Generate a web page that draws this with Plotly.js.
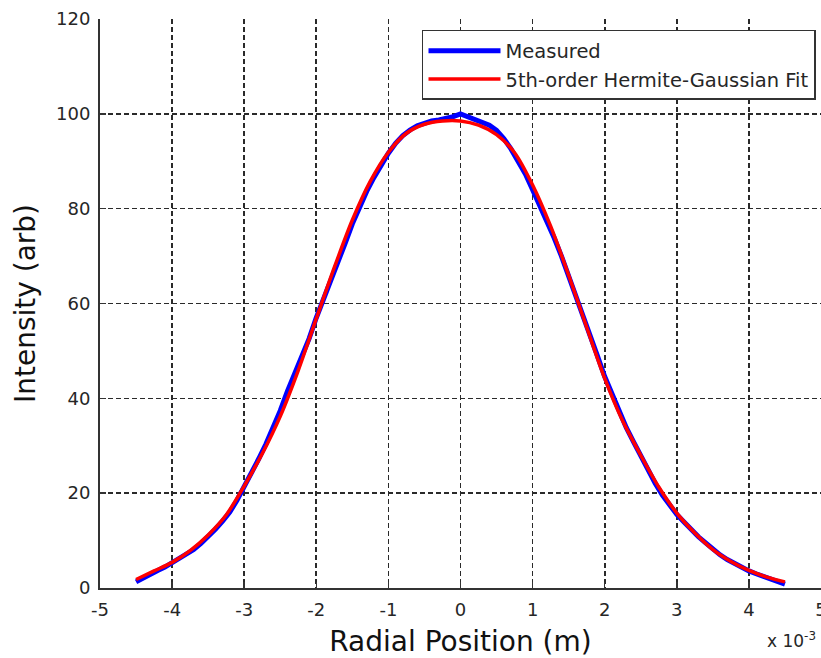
<!DOCTYPE html>
<html>
<head>
<meta charset="utf-8">
<script src="https://cdn.plot.ly/plotly-3.0.1.min.js"></script>
<style>html,body{margin:0;padding:0;background:#fff;}#chart{width:821px;height:658px;}</style>
</head>
<body>
<div id="chart"></div>
<script>
// Radial position in units of 1e-3 m
const measuredX = [-4.5,-4.4,-4.3,-4.2,-4.1,-4.0,-3.9,-3.8,-3.7,-3.6,-3.5,-3.4,-3.3,-3.2,-3.1,-3.0,-2.9,-2.8,-2.7,-2.6,-2.5,-2.4,-2.3,-2.2,-2.1,-2.0,-1.9,-1.8,-1.7,-1.6,-1.5,-1.4,-1.3,-1.2,-1.1,-1.0,-0.9,-0.8,-0.7,-0.6,-0.5,-0.4,-0.3,-0.2,-0.1,0.0,0.1,0.2,0.3,0.4,0.5,0.6,0.7,0.8,0.9,1.0,1.1,1.2,1.3,1.4,1.5,1.6,1.7,1.8,1.9,2.0,2.1,2.2,2.3,2.4,2.5,2.6,2.7,2.8,2.9,3.0,3.1,3.2,3.3,3.4,3.5,3.6,3.7,3.8,3.9,4.0,4.1,4.2,4.3,4.4,4.5];
const measuredY = [1.3,2.2,2.9,3.7,4.4,5.3,6.1,7.0,8.1,9.4,10.8,12.4,14.1,16.0,18.5,21.3,24.3,27.2,30.3,33.8,37.4,41.5,45.0,48.6,52.6,57.0,60.8,64.6,68.7,72.7,76.8,80.4,83.7,86.6,89.3,91.7,93.8,95.4,96.6,97.5,98.0,98.5,98.7,99.0,99.4,100.0,99.4,98.9,98.4,97.6,96.5,94.8,92.6,90.0,87.3,84.0,80.7,77.3,73.8,70.0,65.9,61.6,57.4,53.1,48.9,44.6,40.8,37.2,33.8,30.8,27.8,24.9,22.1,19.6,17.4,15.5,13.9,12.3,10.8,9.5,8.2,7.0,6.0,5.1,4.3,3.6,3.0,2.5,2.0,1.5,0.8];

const fitX = [-4.5,-4.25,-4.0,-3.75,-3.5,-3.25,-3.0,-2.75,-2.5,-2.25,-2.0,-1.75,-1.5,-1.25,-1.0,-0.75,-0.5,-0.25,0.0,0.25,0.5,0.75,1.0,1.25,1.5,1.75,2.0,2.25,2.5,2.75,3.0,3.25,3.5,3.75,4.0,4.25,4.5];
const fitY = [1.8,3.6,5.4,7.9,11.2,15.4,21.5,28.3,36.2,45.9,56.8,67.6,77.6,85.8,91.9,95.9,97.8,98.5,98.5,97.6,95.6,91.8,85.0,76.3,66.0,55.0,44.2,35.2,28.0,21.3,15.8,11.6,8.1,5.6,3.7,2.3,1.3];

const xTicks = [-5,-4,-3,-2,-1,0,1,2,3,4,5];
const yTicks = [0,20,40,60,80,100,120];
const seriesNames = ['Measured','5th-order Hermite-Gaussian Fit'];
const xTitle = 'Radial Position (m)';
const yTitle = 'Intensity (arb)';
const xExponent = 'x 10<sup>-3</sup>';

const FONT = 'DejaVu Sans, Arial, sans-serif';
const INK = '#262626';

const traces = [
  {x: measuredX, y: measuredY, name: seriesNames[0], type: 'scatter', mode: 'lines',
   line: {color: '#0000ff', width: 5}},
  {x: fitX, y: fitY, name: seriesNames[1], type: 'scatter', mode: 'lines',
   line: {color: '#ff0000', width: 3.5, shape: 'spline', smoothing: 0.8}}
];

const gridStyle = {showgrid: true, gridcolor: '#2a2a2a', gridwidth: 1.6, griddash: '5px,3px'};

const layout = {
  width: 821, height: 658,
  margin: {l: 100, r: 0, t: 19, b: 70},
  paper_bgcolor: '#fff', plot_bgcolor: '#fff',
  font: {family: FONT, color: INK, size: 18},
  showlegend: true,
  xaxis: Object.assign({
    range: [-5, 5], tickvals: xTicks, ticktext: xTicks.map(String),
    ticks: 'inside', ticklen: 6, tickwidth: 1.5, tickcolor: '#333',
    showline: true, linecolor: '#333', linewidth: 2, zeroline: false,
    ticklabelstandoff: 4, ticklabeloverflow: 'allow',
    tickfont: {family: FONT, size: 18, color: INK},
    title: {text: xTitle, font: {family: FONT, size: 28, color: '#111'}, standoff: 14}
  }, gridStyle),
  xaxis2: {
    matches: 'x', overlaying: 'x', side: 'top', anchor: 'y',
    range: [-5, 5], tickvals: xTicks, ticks: 'inside', ticklen: 6, tickwidth: 1.5, tickcolor: '#333',
    showticklabels: false, showline: false, showgrid: false, zeroline: false
  },
  yaxis: Object.assign({
    range: [0, 120], tickvals: yTicks, ticktext: yTicks.map(String),
    ticks: 'inside', ticklen: 6, tickwidth: 1.5, tickcolor: '#333',
    showline: true, linecolor: '#333', linewidth: 2, zeroline: false,
    ticklabelstandoff: 4,
    tickfont: {family: FONT, size: 18, color: INK},
    title: {text: yTitle, font: {family: FONT, size: 28, color: '#111'}, standoff: 12}
  }, gridStyle),
  legend: {
    x: 0.4466, y: 0.9807, xanchor: 'left', yanchor: 'top',
    bgcolor: '#fff', bordercolor: '#333', borderwidth: 1.5,
    font: {family: FONT, size: 19.5, color: INK},
    itemwidth: 72, tracegroupgap: 0
  },
  annotations: [
    {text: xExponent, xref: 'paper', yref: 'paper', x: 0.923, y: -0.092,
     xanchor: 'left', yanchor: 'middle', showarrow: false,
     font: {family: FONT, size: 17, color: INK}}
  ]
};

Plotly.newPlot('chart', traces, layout, {displayModeBar: false, staticPlot: true});
</script>
</body>
</html>
